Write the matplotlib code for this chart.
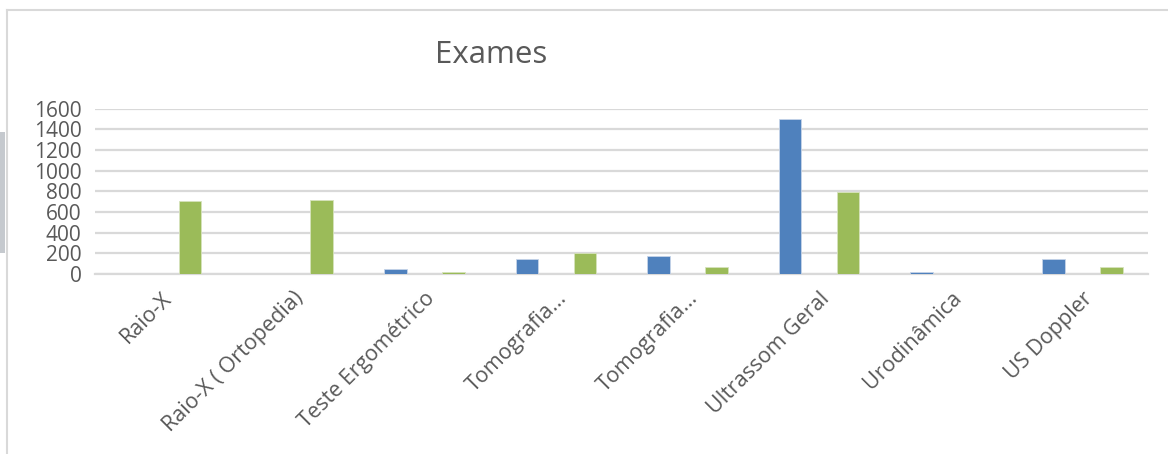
import matplotlib.pyplot as plt
import numpy as np
from matplotlib.patches import Rectangle
from matplotlib.lines import Line2D

plt.rcParams['font.family'] = ['Open Sans', 'DejaVu Sans']

# categorias e valores
categorias = ['Raio-X', 'Raio-X ( Ortopedia)', 'Teste Ergométrico', 'Tomografia...',
              'Tomografia...', 'Ultrassom Geral', 'Urodinâmica', 'US Doppler']
serie_azul = [0, 0, 48, 148, 177, 1503, 15, 145]
serie_verde = [706, 712, 19, 206, 65, 797, 0, 68]

azul = '#4f81bd'
verde = '#9bbb59'
grade = '#d9d9d9'
texto = '#595959'

fig = plt.figure(figsize=(11.68, 4.54), dpi=100)
ax = fig.add_axes([0.0816, 0.3965, 0.9014, 0.3641])

x = np.arange(len(categorias))
largura = 0.172
desloc = 0.22
ax.bar(x - desloc, serie_azul, largura, color=azul, edgecolor='#c6d4e8', linewidth=0.6, zorder=3)
ax.bar(x + desloc, serie_verde, largura, color=verde, edgecolor='#d6e3bc', linewidth=0.6, zorder=3)

ax.set_xlim(-0.5, len(categorias) - 0.5)
ax.set_ylim(0, 1600)
ax.set_yticks(range(0, 1601, 200))
ax.yaxis.grid(True, color=grade, linewidth=1.6, zorder=0)
ax.set_axisbelow(True)
for lado in ['top', 'right', 'left']:
    ax.spines[lado].set_visible(False)
ax.spines['bottom'].set_color(grade)
ax.spines['bottom'].set_linewidth(1.6)
ax.tick_params(axis='y', length=0, labelsize=15, colors=texto, pad=10)
ax.set_xticks(x)
ax.set_xticklabels(categorias, rotation=45, ha='right', rotation_mode='anchor')
ax.tick_params(axis='x', length=0, labelsize=15.5, colors=texto, pad=10)

fig.text(491 / 1168, 1 - 55 / 454, 'Exames', fontsize=22.5, color=texto, ha='center', va='center')

# moldura e sobra da captura de tela
fig.add_artist(Line2D([7 / 1168, 7 / 1168], [0, 1 - 10 / 454], transform=fig.transFigure,
                      color=grade, linewidth=1.5))
fig.add_artist(Line2D([7 / 1168, 1], [1 - 10 / 454, 1 - 10 / 454], transform=fig.transFigure,
                      color=grade, linewidth=1.5))
fig.add_artist(Rectangle((0, 1 - 253 / 454), 5 / 1168, 121 / 454, transform=fig.transFigure,
                         color='#c5c9ce', linewidth=0))

fig.savefig('out.png', dpi=100)
